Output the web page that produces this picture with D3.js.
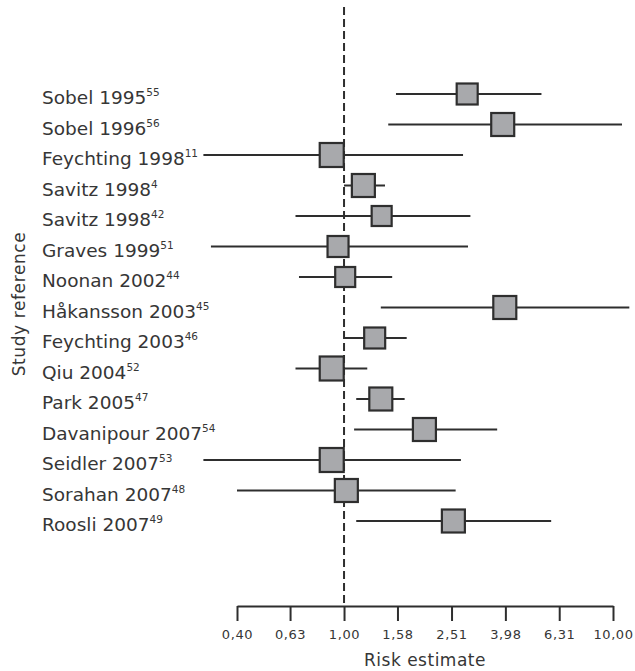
<!DOCTYPE html>
<html>
<head>
<meta charset="utf-8">
<script src="https://cdn.jsdelivr.net/npm/d3@7"></script>
<style>
  body { margin: 0; background: #fff; }
  svg { display: block; }
</style>
</head>
<body>
<svg id="chart" width="635" height="671"></svg>
<script>
// Study names and their reference numbers (drawn as superscripts)
const studies = [
  "Sobel 1995", "Sobel 1996", "Feychting 1998", "Savitz 1998", "Savitz 1998",
  "Graves 1999", "Noonan 2002", "Håkansson 2003", "Feychting 2003", "Qiu 2004",
  "Park 2005", "Davanipour 2007", "Seidler 2007", "Sorahan 2007", "Roosli 2007"
];
const refs = ["55", "56", "11", "4", "42", "51", "44", "45", "46", "52", "47", "54", "53", "48", "49"];

// Point estimates with lower / upper confidence limits
const estimates = [2.87, 3.89, 0.90, 1.18, 1.38, 0.95, 1.01, 3.96, 1.30, 0.90, 1.37, 1.99, 0.90, 1.02, 2.55];
const lower     = [1.56, 1.46, 0.30, 1.00, 0.66, 0.32, 0.68, 1.37, 1.00, 0.66, 1.11, 1.09, 0.30, 0.40, 1.11];
const upper     = [5.42, 10.8, 2.77, 1.42, 2.95, 2.89, 1.51, 11.5, 1.71, 1.22, 1.68, 3.71, 2.72, 2.60, 5.89];

// Relative study weights (marker size)
const weights = [2, 4, 5, 4, 1, 2, 1, 4, 2, 5, 4, 4, 5, 4, 4];

// Axis ticks on the log scale
const tickValues = [0.40, 0.63, 1.00, 1.58, 2.51, 3.98, 6.31, 10.00];

const svg = d3.select("#chart");
const ink = "#2e2e2e";
const fontFamily = "'DejaVu Sans', sans-serif";

const x = d3.scaleLog().domain([0.4, 10]).range([237, 613]);
const y = d3.scalePoint().domain(d3.range(studies.length)).range([94, 521]);
const size = d3.scaleLinear().domain([1, 5]).range([20, 24]);
const axisY = 606;

// Reference line at risk = 1
svg.append("line")
  .attr("x1", x(1)).attr("x2", x(1))
  .attr("y1", 7).attr("y2", axisY)
  .attr("stroke", ink).attr("stroke-width", 2)
  .attr("stroke-dasharray", "8,4");

const rows = svg.append("g").selectAll("g")
  .data(studies.map((s, i) => ({ s, i, ref: refs[i], est: estimates[i], lo: lower[i], hi: upper[i], w: weights[i] })))
  .join("g");

// Confidence intervals
rows.append("line")
  .attr("x1", d => x(d.lo)).attr("x2", d => x(d.hi))
  .attr("y1", d => y(d.i)).attr("y2", d => y(d.i))
  .attr("stroke", ink).attr("stroke-width", 2);

// Point estimate boxes
rows.append("rect")
  .attr("x", d => x(d.est) - size(d.w) / 2)
  .attr("y", d => y(d.i) - size(d.w) / 2)
  .attr("width", d => size(d.w))
  .attr("height", d => size(d.w))
  .attr("fill", "#a8a9ac")
  .attr("stroke", ink).attr("stroke-width", 2.2);

// Study labels with superscript reference numbers
const labels = rows.append("text")
  .attr("x", 42)
  .attr("y", d => y(d.i) + 10)
  .attr("font-family", fontFamily)
  .attr("font-size", 18.5)
  .attr("fill", "#363636");
labels.append("tspan").text(d => d.s);
labels.append("tspan")
  .attr("font-size", 10.5)
  .attr("dy", -8)
  .text(d => d.ref);

// Bottom axis
const axis = d3.axisBottom(x)
  .tickValues(tickValues)
  .tickFormat(d => d3.format(".2f")(d).replace(".", ","))
  .tickSizeInner(15)
  .tickSizeOuter(0)
  .tickPadding(9);

const gAxis = svg.append("g")
  .attr("transform", `translate(0,${axisY})`)
  .call(axis);
gAxis.select(".domain").attr("stroke", ink).attr("stroke-width", 2);
gAxis.selectAll(".tick line").attr("stroke", ink).attr("stroke-width", 2);
gAxis.selectAll(".tick text")
  .attr("font-family", fontFamily)
  .attr("font-size", 13)
  .attr("letter-spacing", 0.6)
  .attr("fill", "#363636");

// Axis titles
svg.append("text")
  .attr("x", (x.range()[0] + x.range()[1]) / 2)
  .attr("y", 666)
  .attr("text-anchor", "middle")
  .attr("font-family", fontFamily)
  .attr("font-size", 17)
  .attr("letter-spacing", 0.5)
  .attr("fill", "#363636")
  .text("Risk estimate");

svg.append("text")
  .attr("transform", "translate(25,304) rotate(-90)")
  .attr("text-anchor", "middle")
  .attr("font-family", fontFamily)
  .attr("font-size", 17)
  .attr("letter-spacing", 0.6)
  .attr("fill", "#363636")
  .text("Study reference");
</script>
</body>
</html>
